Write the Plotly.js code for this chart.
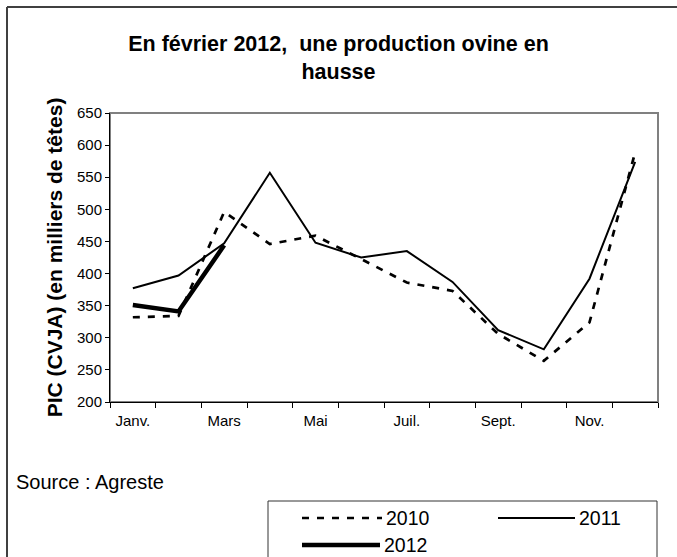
<!DOCTYPE html>
<html><head><meta charset="utf-8">
<script src="https://cdn.plot.ly/plotly-3.0.1.min.js"></script>
<style>html,body{margin:0;padding:0;background:#fff;} #chart{width:677px;height:557px;}</style>
</head><body><div id="chart"></div>
<script>
// ---- data ----
const months = ['Janv.','Févr.','Mars','Avr.','Mai','Juin','Juil.','Août','Sept.','Oct.','Nov.','Déc.'];
const tickLabels = ['Janv.','','Mars','','Mai','','Juil.','','Sept.','','Nov.',''];
const seriesNames = ['2010','2011','2012'];
const values2010 = [332, 334, 496, 446, 459, 422, 386, 373, 306, 264, 324, 589];
const values2011 = [377, 397, 447, 557, 448, 425, 435, 387, 312, 282, 392, 574];
const values2012 = [351, 341, 444];
const titleText = '<b>En février 2012,\u00a0 une production ovine en<br>hausse</b>';
const yTitle = '<b>PIC (CVJA) (en milliers de têtes)</b>';
const sourceText = 'Source : Agreste';

// ---- layout helpers ----
const W = 677, H = 557, M = {l:110, r:19, t:113, b:155};
const pw = W - M.l - M.r, ph = H - M.t - M.b;
const px = x => (x - M.l) / pw;
const py = y => (H - M.b - y) / ph;
const FONT = 'Liberation Sans, Arial, sans-serif';

const styles = [
  {color:'#000', width:2.7, dash:'7px,8px'},
  {color:'#000', width:2, dash:'solid'},
  {color:'#000', width:4.5, dash:'solid'}
];
const seriesValues = [values2010, values2011, values2012];

const traces = seriesValues.map((vals, i) => ({
  type:'scatter', mode:'lines', name: seriesNames[i],
  x: months.slice(0, vals.length), y: vals,
  line: styles[i], showlegend:false, hoverinfo:'skip'
}));

// custom legend placement (pixels)
const legendPos = [
  {x0:302, x1:382, y:518},
  {x0:498, x1:575, y:518},
  {x0:302, x1:380, y:545}
];

const shapes = [
  {type:'line', xref:'paper', yref:'paper', x0:px(7), x1:px(700), y0:py(7), y1:py(7), line:{color:'#404040', width:2}},
  {type:'line', xref:'paper', yref:'paper', x0:px(7), x1:px(7), y0:py(7), y1:py(600), line:{color:'#404040', width:2}},
  {type:'rect', xref:'paper', yref:'paper', x0:0, x1:1, y0:0, y1:1, layer:'below', line:{color:'#808080', width:2}},
  {type:'rect', xref:'paper', yref:'paper', x0:px(268), x1:px(657), y0:py(501), y1:py(620), line:{color:'#333', width:1}, fillcolor:'rgba(0,0,0,0)'}
];
const annotations = [
  {xref:'paper', yref:'paper', x:px(14), y:py(482), xanchor:'left', yanchor:'middle', showarrow:false,
   text: sourceText, font:{family:FONT, size:20, color:'#000'}}
];
seriesNames.forEach((n, i) => {
  const p = legendPos[i];
  shapes.push({type:'line', xref:'paper', yref:'paper', x0:px(p.x0), x1:px(p.x1), y0:py(p.y), y1:py(p.y), line: styles[i]});
  annotations.push({xref:'paper', yref:'paper', x:px(p.x1 + 2), y:py(p.y), xanchor:'left', yanchor:'middle',
    showarrow:false, text:n, font:{family:FONT, size:19.5, color:'#000'}});
});

const layout = {
  width: W, height: H,
  margin: M,
  paper_bgcolor:'#fff', plot_bgcolor:'#fff',
  font: {family: FONT, color:'#000'},
  showlegend:false,
  title: {text: titleText, x:0.5, xref:'container', xanchor:'center', y: 1 - 51/H, yref:'container', yanchor:'top',
          font:{family:FONT, size:21.5, color:'#000'}},
  xaxis: {
    type:'category', categoryarray: months, range:[-0.5, 11.5],
    tickmode:'array', tickvals: months, ticktext: tickLabels,
    ticks:'outside', tickson:'boundaries', ticklen:5, tickcolor:'#000', tickwidth:1,
    showline:true, linecolor:'#000', linewidth:1, showgrid:false, zeroline:false,
    ticklabelstandoff:5,
    tickfont:{family:FONT, size:15, color:'#000'}
  },
  yaxis: {
    range:[200, 650], tick0:200, dtick:50, ticks:'outside', ticklen:4, tickcolor:'#000', tickwidth:1,
    showline:true, linecolor:'#000', linewidth:1, showgrid:false, zeroline:false,
    tickfont:{family:FONT, size:15, color:'#000'},
    title:{text: yTitle, font:{family:FONT, size:21, color:'#000'}, standoff:8}
  },
  shapes: shapes,
  annotations: annotations
};

Plotly.newPlot('chart', traces, layout, {staticPlot:true, displayModeBar:false});
</script>
</body></html>
